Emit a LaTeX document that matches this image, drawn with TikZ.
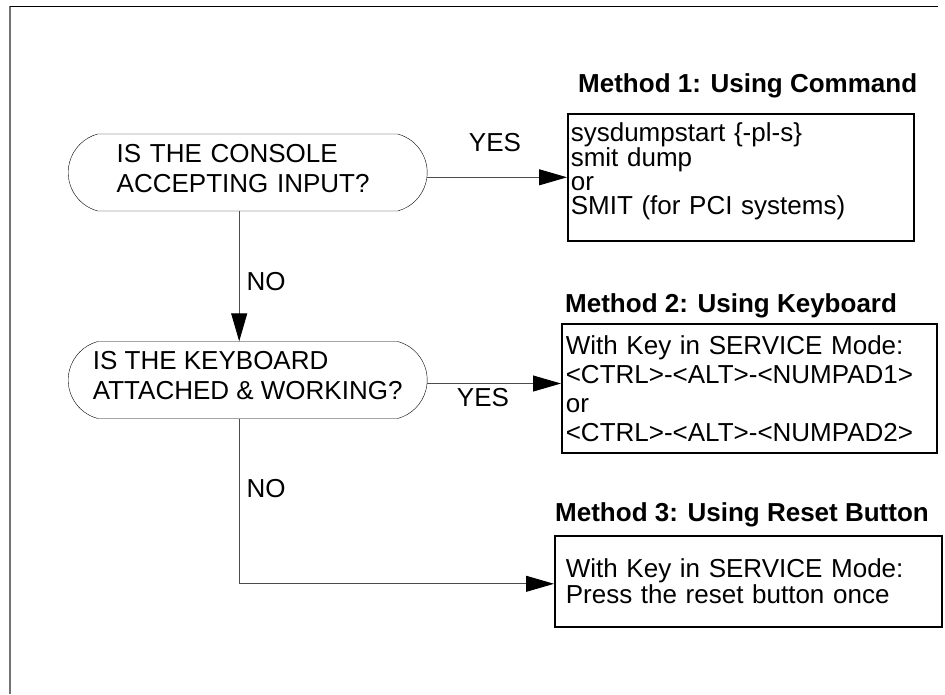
\documentclass[tikz,border=0pt]{standalone}
\usepackage{fontspec}
\setmainfont{Liberation Sans}
\usetikzlibrary{arrows.meta, positioning, shapes.misc}

\newcommand{\padbelow}[1]{\rule[-#1]{0pt}{#1}}

\begin{document}
\begin{tikzpicture}[
    x=1pt, y=-1pt,
    every node/.style={font=\fontsize{26}{30}\selectfont, inner sep=0pt},
    decision/.style={rounded rectangle, rounded rectangle arc length=150, draw=black, thin,
      minimum width=359pt, minimum height=77pt, align=left, anchor=west},
    method/.style={rectangle, draw=black, line width=1.6pt, anchor=north west, align=left,
      font=\fontsize{26}{24}\selectfont},
    heading/.style={font=\bfseries\fontsize{26}{30}\selectfont, anchor=south west},
    flow/.style={draw=black!70, line width=0.9pt, -{Triangle[length=28pt, width=16pt, black]}}
  ]
  \useasboundingbox (0,0) rectangle (945,694);

  % page frame
  \draw[black!55, line width=1.4pt] (10,694) -- (10,6);
  \draw[black, line width=0.9pt] (10,6) -- (938,6);

  % questions
  \node[decision, text width=262pt] (console) at (68,172.5)
    {IS THE CONSOLE\\ACCEPTING INPUT?\padbelow{9pt}};
  \node[decision] (keyboard) at (68,380)
    {IS THE KEYBOARD\\ATTACHED \& WORKING?\padbelow{9pt}};

  % methods
  \node[method, text width=340pt, inner xsep=3pt, minimum height=127pt] (cmdbox) at (567,113)
    {sysdumpstart \{-pl-s\}\\smit dump\\or\\SMIT (for PCI systems)\padbelow{18pt}};
  \node[method, text width=367pt, inner xsep=4pt, minimum height=129pt,
    font=\fontsize{26}{29}\selectfont] (keybox) at (561,323)
    {With Key in SERVICE Mode:\\<CTRL>-<ALT>-<NUMPAD1>\\or\\<CTRL>-<ALT>-<NUMPAD2>};
  \node[method, text width=365pt, inner xsep=11pt, minimum height=91pt] (resetbox) at (554,535)
    {With Key in SERVICE Mode:\\Press the reset button once};

  \node[heading, above right=15pt and 11pt of cmdbox.north west] (cmdhead) {Method 1: Using Command};
  \node[heading, above right=5pt and 4pt of keybox.north west] (keyhead) {Method 2: Using Keyboard};
  \node[heading, above right=8pt and 1pt of resetbox.north west] (resethead) {Method 3: Using Reset Button};

  % answers
  \node (yes1) at (495,143) {YES};
  \node (no1) at (266,282) {NO};
  \node (yes2) at (483,398) {YES};
  \node (no2) at (266,489) {NO};

  \draw[flow] (console.east |- cmdbox.west) -- (cmdbox.west);
  \draw[flow] ([xshift=-8.5pt]console.south) -- ([xshift=-8.5pt]keyboard.north);
  \draw[flow] ([yshift=-3.5pt]keyboard.east) -- ([yshift=-3.5pt]keyboard.east -| keybox.west);
  \draw[flow] ([xshift=-8.5pt]keyboard.south) |- ([yshift=-2.5pt]resetbox.west);
\end{tikzpicture}
\end{document}
